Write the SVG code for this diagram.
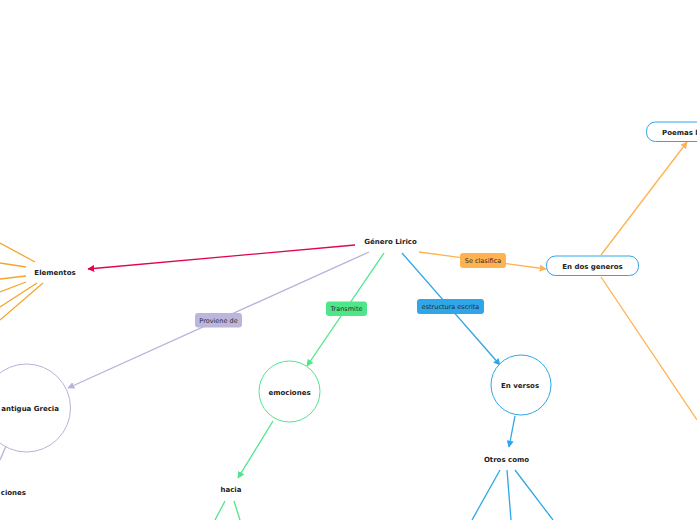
<svg xmlns="http://www.w3.org/2000/svg" width="697" height="520" viewBox="0 0 697 520">
<style>
.t{font-family:"DejaVu Sans",Verdana,sans-serif;font-weight:bold;font-size:7px;fill:#222;text-anchor:middle}
.l{font-family:"DejaVu Sans",Verdana,sans-serif;font-size:6.5px;fill:#2a2a2a;text-anchor:middle}
.c{fill:none;stroke-width:1.3}
</style>
<defs>
<marker id="aR" viewBox="0 0 10 10" refX="9" refY="5" markerWidth="7" markerHeight="7" orient="auto" markerUnits="userSpaceOnUse"><path d="M0,0L10,5L0,10z" fill="#e0054f"/></marker>
<marker id="aP" viewBox="0 0 10 10" refX="9" refY="5" markerWidth="7" markerHeight="7" orient="auto" markerUnits="userSpaceOnUse"><path d="M0,0L10,5L0,10z" fill="#b9b1da"/></marker>
<marker id="aG" viewBox="0 0 10 10" refX="9" refY="5" markerWidth="7" markerHeight="7" orient="auto" markerUnits="userSpaceOnUse"><path d="M0,0L10,5L0,10z" fill="#4ee68a"/></marker>
<marker id="aB" viewBox="0 0 10 10" refX="9" refY="5" markerWidth="7" markerHeight="7" orient="auto" markerUnits="userSpaceOnUse"><path d="M0,0L10,5L0,10z" fill="#2ea6e8"/></marker>
<marker id="aO" viewBox="0 0 10 10" refX="9" refY="5" markerWidth="7" markerHeight="7" orient="auto" markerUnits="userSpaceOnUse"><path d="M0,0L10,5L0,10z" fill="#ffb24f"/></marker>
</defs>
<rect width="697" height="520" fill="#fff"/>
<g id="connectors">
<g stroke="#f5a52a" class="c">
<line x1="0" y1="243" x2="35" y2="262"/>
<line x1="0" y1="263" x2="26" y2="267"/>
<line x1="0" y1="279" x2="26" y2="276"/>
<line x1="0" y1="292" x2="26" y2="282"/>
<line x1="0" y1="307" x2="37" y2="283"/>
<line x1="0" y1="320" x2="43" y2="283"/>
</g>
<line class="c" stroke="#e0054f" x1="355" y1="245" x2="88" y2="269" marker-end="url(#aR)"/>
<line class="c" stroke="#b9b1da" x1="369" y1="252" x2="68" y2="388" marker-end="url(#aP)"/>
<line class="c" stroke="#b9b1da" x1="6" y1="446" x2="0" y2="460"/>
<line class="c" stroke="#4ee68a" x1="384" y1="253" x2="307" y2="366" marker-end="url(#aG)"/>
<line class="c" stroke="#4ee68a" x1="273" y1="421" x2="238" y2="478" marker-end="url(#aG)"/>
<line class="c" stroke="#4ee68a" x1="225" y1="501" x2="215" y2="520"/>
<line class="c" stroke="#4ee68a" x1="234" y1="501" x2="240" y2="520"/>
<line class="c" stroke="#2ea6e8" x1="402" y1="253" x2="500" y2="365" marker-end="url(#aB)"/>
<line class="c" stroke="#2ea6e8" x1="515" y1="416" x2="509" y2="447" marker-end="url(#aB)"/>
<line class="c" stroke="#2ea6e8" x1="500" y1="470" x2="472" y2="520"/>
<line class="c" stroke="#2ea6e8" x1="507" y1="470" x2="511" y2="520"/>
<line class="c" stroke="#2ea6e8" x1="515" y1="470" x2="553" y2="520"/>
<line class="c" stroke="#ffb24f" x1="419" y1="252" x2="546" y2="269" marker-end="url(#aO)"/>
<line class="c" stroke="#ffb24f" x1="601" y1="255" x2="687" y2="142" marker-end="url(#aO)"/>
<line class="c" stroke="#ffb24f" x1="601" y1="277" x2="697" y2="420"/>
<rect x="195" y="313" width="47" height="14.5" rx="3" fill="#bdb6dc"/>
<text class="l" x="218.5" y="322.6">Proviene de</text>
<rect x="326" y="301.5" width="41" height="14.5" rx="3" fill="#4ee68a"/>
<text class="l" x="346.5" y="311.1">Transmite</text>
<rect x="417" y="299" width="67" height="15" rx="3" fill="#2ea6e8"/>
<text class="l" x="450.5" y="308.9">estructura escrita</text>
<rect x="460" y="253" width="46" height="15" rx="3" fill="#ffb24f"/>
<text class="l" x="483" y="262.9">Se clasifica</text>
</g>
<g id="genero"><text class="t" x="390.5" y="244">Género Lirico</text></g>
<g id="elementos"><text class="t" x="55" y="274.5">Elementos</text></g>
<g id="grecia"><circle cx="26.5" cy="408" r="44" fill="#fff" stroke="#b9b1da" stroke-width="1"/><text class="t" x="59" y="411" style="text-anchor:end">antigua Grecia</text></g>
<g id="ciones"><text class="t" x="26" y="495" style="text-anchor:end">ciones</text></g>
<g id="emociones"><circle cx="289.5" cy="391.5" r="30.5" fill="#fff" stroke="#4ee68a" stroke-width="1"/><text class="t" x="289.5" y="394.5">emociones</text></g>
<g id="hacia"><text class="t" x="231" y="491.5">hacia</text></g>
<g id="versos"><circle cx="521" cy="385" r="30" fill="#fff" stroke="#2ea6e8" stroke-width="1"/><text class="t" x="520" y="387.5">En versos</text></g>
<g id="otros"><text class="t" x="506.5" y="461.5">Otros como</text></g>
<g id="dosgeneros"><rect x="546.5" y="256" width="92" height="19.5" rx="9" fill="#fff" stroke="#2ea6e8" stroke-width="1"/><text class="t" x="592.5" y="268.5">En dos generos</text></g>
<g id="poemas"><rect x="646.5" y="122" width="70" height="19.5" rx="9" fill="#fff" stroke="#2ea6e8" stroke-width="1"/><text class="t" x="662" y="134.5" style="text-anchor:start">Poemas l</text></g>
</svg>
